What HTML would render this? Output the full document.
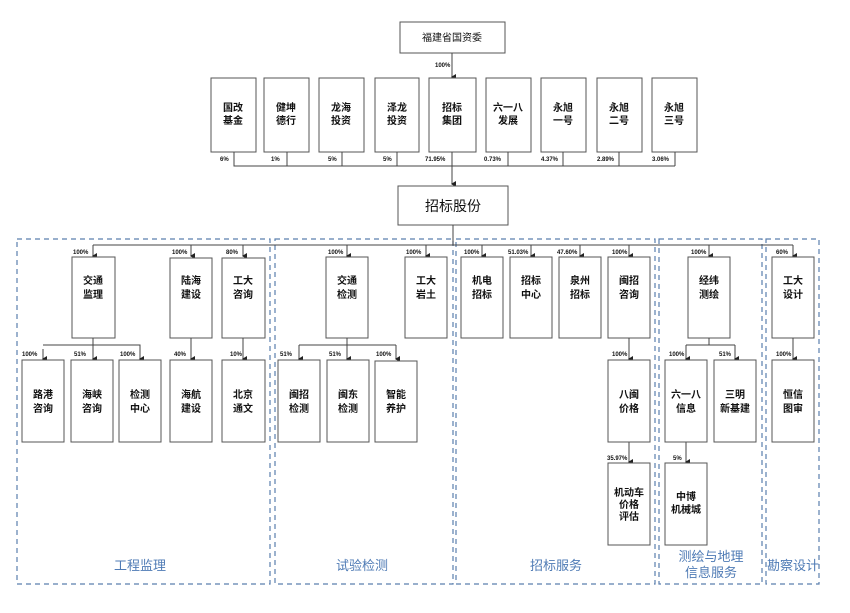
<!DOCTYPE html>
<html><head><meta charset="utf-8"><style>
html,body{margin:0;padding:0;background:#fff;}
svg{display:block;}
text{font-family:"Liberation Sans","Noto Sans CJK SC",sans-serif;}
.b{fill:#fff;stroke:#555;stroke-width:1;}
.t{font-size:10px;fill:#111;text-anchor:middle;font-weight:bold;}
.p{font-size:6px;fill:#111;font-weight:bold;}
.l{stroke:#444;stroke-width:1;fill:none;}
.d{fill:none;stroke:#5b7fae;stroke-width:1.2;stroke-dasharray:5,4;}
.s{font-size:13px;fill:#4f7bb5;text-anchor:middle;}
</style></head><body>
<svg width="850" height="613" viewBox="0 0 850 613" xmlns="http://www.w3.org/2000/svg">
<defs><marker id="a" markerWidth="6" markerHeight="6" refX="3" refY="5" orient="auto" markerUnits="userSpaceOnUse"><path d="M0,1 L6,1 L3,6 Z" fill="#222"/></marker></defs>

<!-- dashed regions -->
<rect class="d" x="17" y="239" width="253" height="345"/>
<rect class="d" x="275" y="239" width="178" height="345"/>
<rect class="d" x="456" y="239" width="199" height="345"/>
<rect class="d" x="659" y="239" width="103" height="345"/>
<rect class="d" x="766" y="239" width="53" height="345"/>

<!-- top -->
<rect class="b" x="400" y="22" width="105" height="31"/>
<text class="t" x="452" y="41" style="font-weight:normal">福建省国资委</text>
<line class="l" x1="452" y1="53" x2="452" y2="77" marker-end="url(#a)"/>
<text class="p" x="435" y="67">100%</text>

<!-- row 2 -->
<g>
<rect class="b" x="211" y="78" width="45" height="74"/><text class="t" x="233" y="111">国改</text><text class="t" x="233" y="124">基金</text>
<rect class="b" x="264" y="78" width="45" height="74"/><text class="t" x="286" y="111">健坤</text><text class="t" x="286" y="124">德行</text>
<rect class="b" x="319" y="78" width="45" height="74"/><text class="t" x="341" y="111">龙海</text><text class="t" x="341" y="124">投资</text>
<rect class="b" x="375" y="78" width="44" height="74"/><text class="t" x="397" y="111">泽龙</text><text class="t" x="397" y="124">投资</text>
<rect class="b" x="429" y="78" width="47" height="74"/><text class="t" x="452" y="111">招标</text><text class="t" x="452" y="124">集团</text>
<rect class="b" x="486" y="78" width="45" height="74"/><text class="t" x="508" y="111">六一八</text><text class="t" x="508" y="124">发展</text>
<rect class="b" x="541" y="78" width="45" height="74"/><text class="t" x="563" y="111">永旭</text><text class="t" x="563" y="124">一号</text>
<rect class="b" x="597" y="78" width="45" height="74"/><text class="t" x="619" y="111">永旭</text><text class="t" x="619" y="124">二号</text>
<rect class="b" x="652" y="78" width="45" height="74"/><text class="t" x="674" y="111">永旭</text><text class="t" x="674" y="124">三号</text>
</g>
<text class="p" x="220" y="161">6%</text>
<text class="p" x="271" y="161">1%</text>
<text class="p" x="328" y="161">5%</text>
<text class="p" x="383" y="161">5%</text>
<text class="p" x="425" y="161">71.95%</text>
<text class="p" x="484" y="161">0.73%</text>
<text class="p" x="541" y="161">4.37%</text>
<text class="p" x="597" y="161">2.89%</text>
<text class="p" x="652" y="161">3.06%</text>
<path class="l" d="M234,152V166H675 M287,152V166 M342,152V166 M397,152V166 M508,152V166 M563,152V166 M619,152V166 M675,152V166"/>
<line class="l" x1="452" y1="152" x2="452" y2="184" marker-end="url(#a)"/>

<rect class="b" x="398" y="186" width="110" height="39"/>
<text class="t" x="453" y="211" style="font-size:14px;font-weight:normal">招标股份</text>
<line class="l" x1="453" y1="225" x2="453" y2="245"/>

<!-- main bus -->
<path class="l" d="M93,245H793"/>
<g class="l">
<line x1="93" y1="245" x2="93" y2="256" marker-end="url(#a)"/>
<line x1="191" y1="245" x2="191" y2="256" marker-end="url(#a)"/>
<line x1="243" y1="245" x2="243" y2="256" marker-end="url(#a)"/>
<line x1="347" y1="245" x2="347" y2="256" marker-end="url(#a)"/>
<line x1="426" y1="245" x2="426" y2="256" marker-end="url(#a)"/>
<line x1="482" y1="245" x2="482" y2="256" marker-end="url(#a)"/>
<line x1="531" y1="245" x2="531" y2="256" marker-end="url(#a)"/>
<line x1="580" y1="245" x2="580" y2="256" marker-end="url(#a)"/>
<line x1="629" y1="245" x2="629" y2="256" marker-end="url(#a)"/>
<line x1="709" y1="245" x2="709" y2="256" marker-end="url(#a)"/>
<line x1="793" y1="245" x2="793" y2="256" marker-end="url(#a)"/>
</g>
<text class="p" x="73" y="254">100%</text>
<text class="p" x="172" y="254">100%</text>
<text class="p" x="226" y="254">80%</text>
<text class="p" x="328" y="254">100%</text>
<text class="p" x="406" y="254">100%</text>
<text class="p" x="464" y="254">100%</text>
<text class="p" x="508" y="254">51.03%</text>
<text class="p" x="557" y="254">47.60%</text>
<text class="p" x="612" y="254">100%</text>
<text class="p" x="691" y="254">100%</text>
<text class="p" x="776" y="254">60%</text>

<!-- row 3 -->
<rect class="b" x="72" y="257" width="43" height="81"/><text class="t" x="93" y="284">交通</text><text class="t" x="93" y="298">监理</text>
<rect class="b" x="170" y="258" width="42" height="80"/><text class="t" x="191" y="284">陆海</text><text class="t" x="191" y="298">建设</text>
<rect class="b" x="222" y="258" width="43" height="80"/><text class="t" x="243" y="284">工大</text><text class="t" x="243" y="298">咨询</text>
<rect class="b" x="326" y="257" width="42" height="81"/><text class="t" x="347" y="284">交通</text><text class="t" x="347" y="298">检测</text>
<rect class="b" x="405" y="257" width="42" height="81"/><text class="t" x="426" y="284">工大</text><text class="t" x="426" y="298">岩土</text>
<rect class="b" x="461" y="257" width="42" height="81"/><text class="t" x="482" y="284">机电</text><text class="t" x="482" y="298">招标</text>
<rect class="b" x="510" y="257" width="42" height="81"/><text class="t" x="531" y="284">招标</text><text class="t" x="531" y="298">中心</text>
<rect class="b" x="559" y="257" width="42" height="81"/><text class="t" x="580" y="284">泉州</text><text class="t" x="580" y="298">招标</text>
<rect class="b" x="608" y="257" width="42" height="81"/><text class="t" x="629" y="284">闽招</text><text class="t" x="629" y="298">咨询</text>
<rect class="b" x="688" y="257" width="42" height="81"/><text class="t" x="709" y="284">经纬</text><text class="t" x="709" y="298">测绘</text>
<rect class="b" x="772" y="257" width="42" height="81"/><text class="t" x="793" y="284">工大</text><text class="t" x="793" y="298">设计</text>

<!-- branches to row 4 -->
<path class="l" d="M93,338V349 M43,349V359 M43,345H140V359 M93,345V359"/>
<path class="l" d="M347,338V349 M299,345H396 M299,345V359 M396,345V359"/>
<path class="l" d="M709,338V345 M686,345H735 M686,345V359 M735,345V359"/>
<g class="l">
<line x1="43" y1="352" x2="43" y2="359" marker-end="url(#a)"/>
<line x1="93" y1="345" x2="93" y2="359" marker-end="url(#a)"/>
<line x1="140" y1="352" x2="140" y2="359" marker-end="url(#a)"/>
<line x1="191" y1="338" x2="191" y2="359" marker-end="url(#a)"/>
<line x1="243" y1="338" x2="243" y2="359" marker-end="url(#a)"/>
<line x1="299" y1="352" x2="299" y2="359" marker-end="url(#a)"/>
<line x1="347" y1="345" x2="347" y2="359" marker-end="url(#a)"/>
<line x1="396" y1="352" x2="396" y2="359" marker-end="url(#a)"/>
<line x1="629" y1="338" x2="629" y2="359" marker-end="url(#a)"/>
<line x1="686" y1="352" x2="686" y2="359" marker-end="url(#a)"/>
<line x1="735" y1="352" x2="735" y2="359" marker-end="url(#a)"/>
<line x1="793" y1="338" x2="793" y2="359" marker-end="url(#a)"/>
<line x1="629" y1="442" x2="629" y2="462" marker-end="url(#a)"/>
<line x1="686" y1="442" x2="686" y2="462" marker-end="url(#a)"/>
</g>
<text class="p" x="22" y="356">100%</text>
<text class="p" x="74" y="356">51%</text>
<text class="p" x="120" y="356">100%</text>
<text class="p" x="174" y="356">40%</text>
<text class="p" x="230" y="356">10%</text>
<text class="p" x="280" y="356">51%</text>
<text class="p" x="329" y="356">51%</text>
<text class="p" x="376" y="356">100%</text>
<text class="p" x="612" y="356">100%</text>
<text class="p" x="669" y="356">100%</text>
<text class="p" x="719" y="356">51%</text>
<text class="p" x="776" y="356">100%</text>
<text class="p" x="607" y="460">35.97%</text>
<text class="p" x="673" y="460">5%</text>

<!-- row 4 -->
<rect class="b" x="22" y="360" width="42" height="82"/><text class="t" x="43" y="398">路港</text><text class="t" x="43" y="412">咨询</text>
<rect class="b" x="71" y="360" width="42" height="82"/><text class="t" x="92" y="398">海峡</text><text class="t" x="92" y="412">咨询</text>
<rect class="b" x="119" y="360" width="42" height="82"/><text class="t" x="140" y="398">检测</text><text class="t" x="140" y="412">中心</text>
<rect class="b" x="170" y="360" width="42" height="82"/><text class="t" x="191" y="398">海航</text><text class="t" x="191" y="412">建设</text>
<rect class="b" x="222" y="360" width="43" height="82"/><text class="t" x="243" y="398">北京</text><text class="t" x="243" y="412">通文</text>
<rect class="b" x="278" y="360" width="42" height="82"/><text class="t" x="299" y="398">闽招</text><text class="t" x="299" y="412">检测</text>
<rect class="b" x="327" y="360" width="42" height="82"/><text class="t" x="348" y="398">闽东</text><text class="t" x="348" y="412">检测</text>
<rect class="b" x="375" y="361" width="42" height="81"/><text class="t" x="396" y="398">智能</text><text class="t" x="396" y="412">养护</text>
<rect class="b" x="608" y="360" width="42" height="82"/><text class="t" x="629" y="398">八闽</text><text class="t" x="629" y="412">价格</text>
<rect class="b" x="665" y="360" width="42" height="82"/><text class="t" x="686" y="398">六一八</text><text class="t" x="686" y="412">信息</text>
<rect class="b" x="714" y="360" width="42" height="82"/><text class="t" x="735" y="398">三明</text><text class="t" x="735" y="412">新基建</text>
<rect class="b" x="772" y="360" width="42" height="82"/><text class="t" x="793" y="398">恒信</text><text class="t" x="793" y="412">图审</text>

<!-- row 5 -->
<rect class="b" x="608" y="463" width="42" height="82"/><text class="t" x="629" y="496">机动车</text><text class="t" x="629" y="508">价格</text><text class="t" x="629" y="520">评估</text>
<rect class="b" x="665" y="463" width="42" height="82"/><text class="t" x="686" y="500">中博</text><text class="t" x="686" y="513">机械城</text>

<!-- section titles -->
<text class="s" x="140" y="570">工程监理</text>
<text class="s" x="362" y="570">试验检测</text>
<text class="s" x="556" y="570">招标服务</text>
<text class="s" x="711" y="561">测绘与地理</text>
<text class="s" x="711" y="577">信息服务</text>
<text class="s" x="793" y="570">勘察设计</text>
</svg>
</body></html>
